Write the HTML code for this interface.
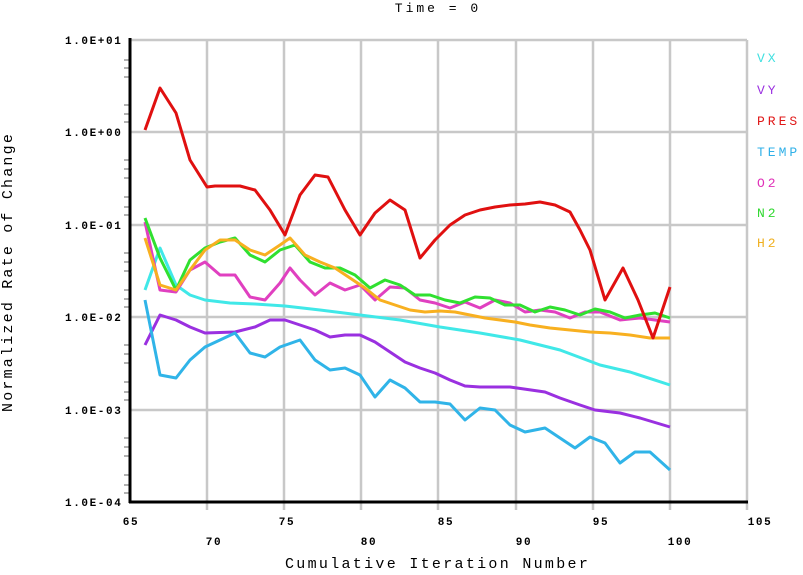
<!DOCTYPE html>
<html><head><style>body{margin:0;background:#fff}svg text{font-family:"Liberation Mono",monospace}</style></head><body>
<svg width="803" height="570" xmlns="http://www.w3.org/2000/svg">
<rect width="803" height="570" fill="#fff"/>
<g stroke="#c8c8c8" stroke-width="2.5">
<line x1="130" y1="40" x2="747" y2="40"/><line x1="130" y1="132" x2="747" y2="132"/><line x1="130" y1="225" x2="747" y2="225"/><line x1="130" y1="317" x2="747" y2="317"/><line x1="130" y1="410" x2="747" y2="410"/>
<line x1="207" y1="40" x2="207" y2="510"/><line x1="284" y1="40" x2="284" y2="510"/><line x1="361" y1="40" x2="361" y2="510"/><line x1="438" y1="40" x2="438" y2="510"/><line x1="516" y1="40" x2="516" y2="510"/><line x1="593" y1="40" x2="593" y2="510"/><line x1="670" y1="40" x2="670" y2="510"/><line x1="747" y1="40" x2="747" y2="510"/>
</g>
<g stroke="#999" stroke-width="1.5">
<path d="M124 68h6M124 77h6M124 60h6M124 105h6M124 114h6M124 122h6M124 160h6M124 169h6M124 178h6M124 197h6M124 207h6M124 215h6M124 253h6M124 262h6M124 271h6M124 290h6M124 299h6M124 307h6M124 345h6M124 354h6M124 363h6M124 382h6M124 392h6M124 400h6M124 438h6M124 447h6M124 456h6M124 475h6M124 485h6M124 493h6"/>
</g>
<line x1="130" y1="38" x2="130" y2="503" stroke="#000" stroke-width="3"/>
<line x1="129" y1="502" x2="748" y2="502" stroke="#000" stroke-width="3"/>
<g font-size="11" font-weight="bold" fill="#000" letter-spacing="1.6">
<text x="65" y="44">1.0E+01</text><text x="65" y="136">1.0E+00</text><text x="65" y="229">1.0E-01</text><text x="65" y="321">1.0E-02</text><text x="65" y="414">1.0E-03</text><text x="65" y="506">1.0E-04</text>
<text x="131" y="525" text-anchor="middle">65</text><text x="214" y="545" text-anchor="middle">70</text><text x="287" y="525" text-anchor="middle">75</text><text x="369" y="545" text-anchor="middle">80</text><text x="446" y="525" text-anchor="middle">85</text><text x="524" y="545" text-anchor="middle">90</text><text x="601" y="525" text-anchor="middle">95</text><text x="680" y="545" text-anchor="middle">100</text><text x="760" y="525" text-anchor="middle">105</text>
</g>
<text x="438" y="12" font-size="13" text-anchor="middle" letter-spacing="3">Time = 0</text>
<text x="285" y="568" font-size="15" letter-spacing="2.3">Cumulative Iteration Number</text>
<text transform="translate(12,412) rotate(-90)" font-size="15" letter-spacing="2.2">Normalized Rate of Change</text>
<g font-size="13" letter-spacing="3">
<text x="757" y="62" fill="#40e0e0">VX</text><text x="757" y="94" fill="#9a30e0">VY</text><text x="757" y="125" fill="#e01818">PRES</text><text x="757" y="156" fill="#30b0e8">TEMP</text><text x="757" y="187" fill="#e030b8">O2</text><text x="757" y="217" fill="#30d830">N2</text><text x="757" y="247" fill="#f0b020">H2</text>
</g>
<g fill="none" stroke-width="3" stroke-linejoin="round">
<polyline stroke="#40e8e8" points="145,290 160,248 176,285 190,295 205,300 230,303 255,304 285,306 320,310 360,315 400,320 440,327 480,333 520,340 560,350 600,365 630,372 670,385"/>
<polyline stroke="#9a30e0" points="145,345 160,315 176,320 190,327 205,333 235,332 255,327 270,320 285,320 300,325 315,330 330,337 345,335 360,335 375,342 390,352 405,362 420,368 435,373 450,380 465,386 480,387 510,387 545,392 560,398 580,405 595,410 620,413 640,418 670,427"/>
<polyline stroke="#30b4e8" points="145,300 160,375 176,378 190,360 205,347 220,340 235,333 250,353 265,357 280,347 300,340 315,360 330,370 345,368 360,375 375,397 390,380 405,388 420,402 435,402 450,404 465,420 480,408 495,410 510,425 525,432 545,428 560,438 575,448 590,437 605,443 620,463 635,452 650,452 670,470"/>
<polyline stroke="#e040c0" points="145,222 160,290 176,292 190,270 205,262 220,275 235,275 250,297 265,300 280,283 290,268 300,280 315,295 330,283 345,290 360,285 375,300 390,287 405,288 420,300 435,303 450,308 465,302 480,308 495,300 510,303 525,312 540,310 555,312 570,318 585,312 600,312 620,320 640,318 655,320 670,322"/>
<polyline stroke="#30e030" points="145,218 160,258 176,290 190,260 205,248 220,242 235,238 250,255 265,262 280,250 295,245 310,262 325,268 340,268 355,275 370,288 385,280 400,285 415,295 430,295 445,300 460,303 475,297 490,298 505,305 520,305 535,312 550,307 565,310 580,315 595,309 610,312 625,318 640,315 655,313 670,318"/>
<polyline stroke="#f8b020" points="145,238 160,285 176,290 190,270 205,250 220,240 235,240 250,250 265,255 280,245 290,238 305,255 320,262 335,268 350,278 365,288 380,300 395,305 410,310 425,312 440,311 455,312 470,315 485,318 500,320 515,322 530,325 550,328 570,330 590,332 610,333 630,335 650,338 670,338"/>
<polyline stroke="#e01010" points="145,130 160,88 176,113 190,160 207,187 215,186 240,186 255,190 270,210 285,235 300,195 315,175 328,177 345,210 360,235 375,213 390,200 405,210 420,258 435,240 450,225 465,215 480,210 495,207 510,205 525,204 540,202 555,205 570,212 580,230 590,250 605,300 623,268 638,300 653,338 670,287"/>
</g>
</svg>
</body></html>
